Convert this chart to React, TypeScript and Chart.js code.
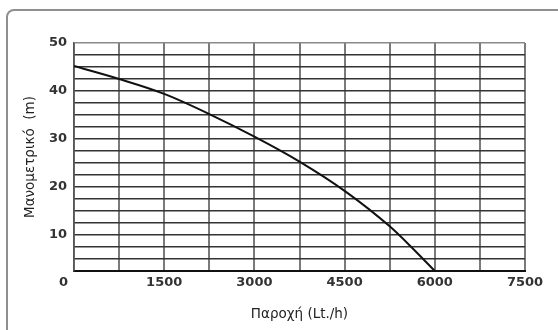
import { useEffect, useRef } from "react";
import { Chart, registerables } from "chart.js";

Chart.register(...registerables);

const flow = [0, 750, 1500, 2250, 3000, 3750, 4500, 5250, 5625, 6000];
const head = [45.2, 42.5, 39.4, 35.2, 30.5, 25.3, 19.2, 11.8, 7.3, 2.5];
const xTickLabels = [1500, 3000, 4500, 6000, 7500];
const yTickLabels = [10, 20, 30, 40, 50];
const cornerLabel = "0";
const xTitle = "Παροχή (Lt./h)";
const yTitle = "Μανομετρικό  (m)";

const tickFont = { family: "'DejaVu Sans', sans-serif", size: 13, weight: "bold" as const };
const titleFont = { family: "'DejaVu Sans', sans-serif", size: 13.5 };

const cornerPlugin = {
  id: "cornerZero",
  afterDraw(chart: any) {
    const y = chart.scales.y;
    const ctx = chart.ctx;
    ctx.save();
    ctx.font = `bold ${tickFont.size}px ${tickFont.family}`;
    ctx.fillStyle = "#333";
    ctx.textAlign = "right";
    ctx.textBaseline = "middle";
    ctx.fillText(cornerLabel, y.right - 6, y.getPixelForValue(0));
    ctx.restore();
  },
};

export default function App() {
  const ref = useRef<HTMLCanvasElement>(null);
  useEffect(() => {
    if (!ref.current) return;
    const chart = new Chart(ref.current, {
      type: "line",
      data: {
        datasets: [
          {
            data: flow.map((x, i) => ({ x, y: head[i] })),
            borderColor: "#111",
            borderWidth: 2,
            pointRadius: 0,
            tension: 0.4,
            cubicInterpolationMode: "monotone",
            fill: false,
          },
        ],
      },
      options: {
        responsive: false,
        animation: false,
        layout: { padding: { top: 43, right: 33, bottom: 0, left: 0 } },
        plugins: { legend: { display: false }, tooltip: { enabled: false } },
        scales: {
          x: {
            type: "linear",
            min: 0,
            max: 7500,
            afterFit: (s: any) => {
              s.height = 59;
            },
            ticks: {
              stepSize: 750,
              autoSkip: false,
              maxRotation: 0,
              padding: 4,
              color: "#333",
              font: tickFont,
              callback: (v: any) => (xTickLabels.includes(Number(v)) ? String(v) : ""),
            },
            grid: { color: "#7a7a7a", lineWidth: 2, drawTicks: false },
            border: { color: "#111", width: 2 },
            title: {
              display: true,
              text: xTitle,
              color: "#222",
              font: titleFont,
              padding: { top: 0, bottom: 7 },
            },
          },
          y: {
            type: "linear",
            min: 2.5,
            max: 50,
            afterFit: (s: any) => {
              s.width = 74;
            },
            ticks: {
              stepSize: 2.5,
              autoSkip: false,
              padding: 7,
              color: "#333",
              font: tickFont,
              callback: (v: any) => (yTickLabels.includes(Number(v)) ? String(v) : ""),
            },
            grid: {
              color: (c: any) => (c.tick && c.tick.value === 50 ? "#8a8a8a" : "#333"),
              lineWidth: 1.5,
              drawTicks: false,
            },
            border: { color: "#555", width: 1.5 },
            title: {
              display: true,
              text: yTitle,
              color: "#222",
              font: titleFont,
              padding: { top: 22, bottom: 0 },
            },
          },
        },
      },
      plugins: [cornerPlugin],
    } as any);
    return () => chart.destroy();
  }, []);

  return (
    <div style={{ position: "fixed", left: 0, top: 0, width: 558, height: 330, overflow: "hidden", background: "#fff" }}>
      <div
        style={{
          position: "absolute",
          left: 6,
          top: 9,
          width: 620,
          height: 400,
          border: "2px solid #8f8f8f",
          borderRadius: 8,
          boxSizing: "border-box",
        }}
      />
      <canvas ref={ref} width={558} height={330} style={{ position: "absolute", left: 0, top: 0, width: 558, height: 330 }} />
    </div>
  );
}
